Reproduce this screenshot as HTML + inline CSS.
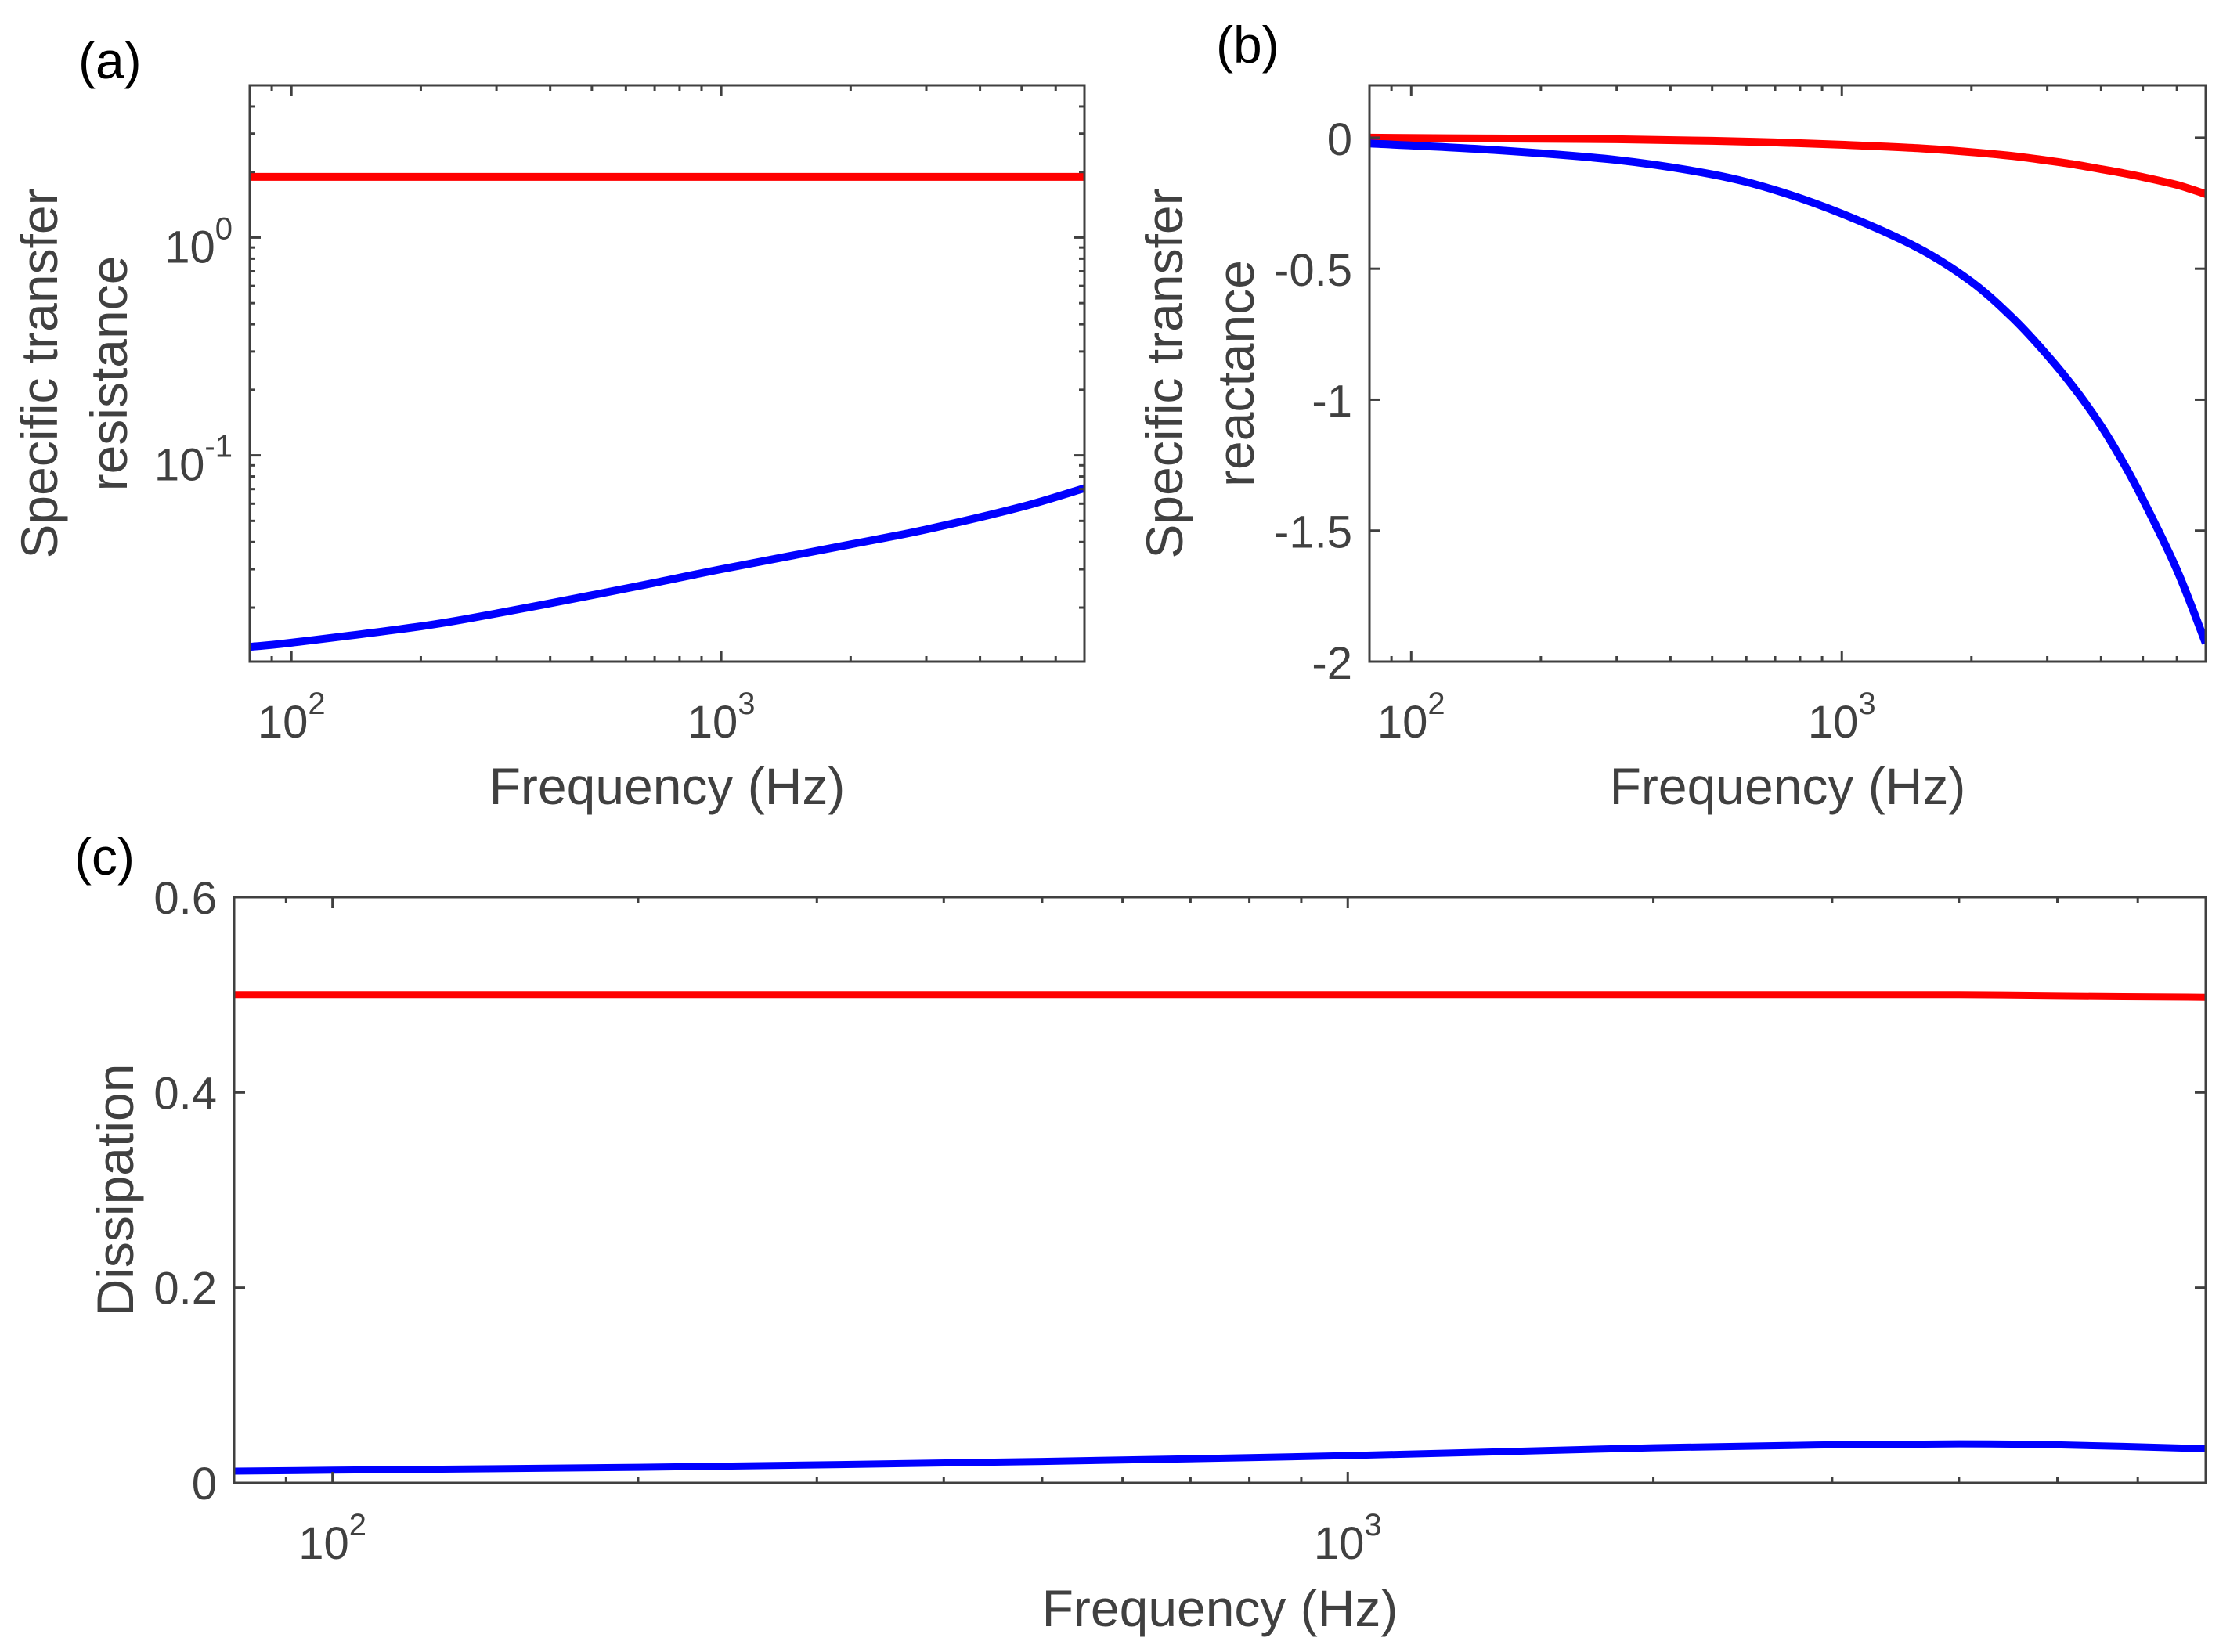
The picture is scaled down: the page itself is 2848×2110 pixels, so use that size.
<!DOCTYPE html>
<html><head><meta charset="utf-8">
<style>
html,body{margin:0;padding:0;background:#fff;}
svg{display:block;}
text{font-family:"Liberation Sans",Arial,sans-serif;fill:#404040;}
</style></head>
<body>
<svg id="fig" width="2848" height="2110" viewBox="0 0 2848 2110" xmlns="http://www.w3.org/2000/svg"></svg>
<script>
// ---- data ----
const freqA = [80, 100, 200, 300, 500, 700, 1000, 2000, 3000, 5000, 7000];
const resRed = [1.9, 1.9, 1.9, 1.9, 1.9, 1.9, 1.9, 1.9, 1.9, 1.9, 1.9];
const resBlue = [0.0132, 0.0138, 0.0164, 0.0188, 0.0228, 0.026, 0.030, 0.039, 0.0457, 0.058, 0.0707];

const freqB = [80, 150, 300, 500, 700, 1000, 1500, 2000, 2500, 3000, 3500, 4000, 4500, 5000, 6000, 7000];
const reacRed = [0, -0.003, -0.006, -0.012, -0.018, -0.027, -0.04, -0.055, -0.07, -0.087, -0.103, -0.12, -0.135, -0.15, -0.18, -0.215];
const reacBlue = [-0.022, -0.045, -0.085, -0.14, -0.2, -0.29, -0.42, -0.55, -0.69, -0.83, -0.965, -1.1, -1.24, -1.38, -1.65, -1.93];

const freqC = [80, 100, 200, 500, 1000, 2000, 3000, 4000, 5000, 7000];
const dissRed = [0.5, 0.5, 0.5, 0.5, 0.5, 0.5, 0.5, 0.5, 0.499, 0.498];
const dissBlue = [0.012, 0.013, 0.016, 0.022, 0.028, 0.036, 0.039, 0.040, 0.039, 0.035];

const yTicksB = [0, -0.5, -1, -1.5, -2];
const yTickLabelsB = ["0", "-0.5", "-1", "-1.5", "-2"];
const yTicksC = [0, 0.2, 0.4, 0.6];
const yTickLabelsC = ["0", "0.2", "0.4", "0.6"];

const NS = "http://www.w3.org/2000/svg";
const svg = document.getElementById('fig');
const GRAY = "#404040";
function mk(tag, attrs, parent){
  const e = document.createElementNS(NS, tag);
  for (const k in attrs) e.setAttribute(k, attrs[k]);
  (parent || svg).appendChild(e);
  return e;
}
function logScale(d0, d1, r0, r1){ const a=Math.log10(d0), b=Math.log10(d1); return v => r0 + (Math.log10(v)-a)/(b-a)*(r1-r0); }
function linScale(d0, d1, r0, r1){ return v => r0 + (v-d0)/(d1-d0)*(r1-r0); }

function smoothPath(pts){
  let d = "M" + pts[0][0].toFixed(1) + "," + pts[0][1].toFixed(1);
  for (let i=0;i<pts.length-1;i++){
    const p0=pts[Math.max(0,i-1)], p1=pts[i], p2=pts[i+1], p3=pts[Math.min(pts.length-1,i+2)];
    const c1x=p1[0]+(p2[0]-p0[0])/6, c1y=p1[1]+(p2[1]-p0[1])/6;
    const c2x=p2[0]-(p3[0]-p1[0])/6, c2y=p2[1]-(p3[1]-p1[1])/6;
    d += " C"+c1x.toFixed(1)+","+c1y.toFixed(1)+" "+c2x.toFixed(1)+","+c2y.toFixed(1)+" "+p2[0].toFixed(1)+","+p2[1].toFixed(1);
  }
  return d;
}

function powLabel(g, x, y, exp, anchor){
  const t = mk('text', {x:x, y:y, 'font-size':58, 'text-anchor':anchor}, g);
  
  
  const a = document.createElementNS(NS,'tspan'); a.textContent = "10"; t.appendChild(a);
  const b = document.createElementNS(NS,'tspan'); b.setAttribute('dy', -30); b.setAttribute('font-size', 40); b.textContent = exp; t.appendChild(b);
  return t;
}

function panel(cfg){
  const g = mk('g', {});
  
  
  const {L,R,T,B} = cfg;
  const xs = logScale(80, 7000, L, R);
  const ys = cfg.ys;
  const clipId = cfg.name + "-clip";
  const cp = mk('clipPath', {id: clipId}, g);
  mk('rect', {x:L, y:T, width:R-L, height:B-T}, cp);
  cfg.series.forEach(s => {
    const pts = s.x.map((f,i)=>[xs(f), ys(s.y[i])]);
    const p = mk('path', {d: smoothPath(pts), fill:'none', stroke:s.color, 'stroke-width':s.w, 'clip-path':'url(#'+clipId+')'}, g);
    
    
  });
  const fr = mk('rect', {x:L, y:T, width:R-L, height:B-T, fill:'none', stroke:GRAY, 'stroke-width':3}, g);
  
  
  for (let dec=1; dec<=3; dec++){
    for (let m=1; m<=9; m++){
      const f = m*Math.pow(10,dec);
      if (f < 80 || f > 7000) continue;
      const x = xs(f), len = m===1 ? 14 : 7;
      mk('line', {x1:x, y1:B, x2:x, y2:B-len, stroke:GRAY, 'stroke-width':3}, g);
      mk('line', {x1:x, y1:T, x2:x, y2:T+len, stroke:GRAY, 'stroke-width':3}, g);
      if (m===1) powLabel(g, x, B+97, String(dec), 'middle');
    }
  }
  cfg.yticks(g, ys);
  const xl = mk('text', {x:(L+R)/2, y:cfg.xlY, 'font-size':66, 'text-anchor':'middle'}, g);
  xl.textContent = "Frequency (Hz)";
  
  
  cfg.ylab.forEach(l => {
    const t = mk('text', {x:0, y:0, 'font-size':66, 'text-anchor':'middle', transform:'translate('+l.x+','+l.y+') rotate(-90)'}, g);
    t.textContent = l.text;
    
    
  });
  const pl = mk('text', {x:cfg.plX, y:cfg.plY, 'font-size':66, style:'fill:#000'}, g);
  pl.textContent = cfg.letter;
  
  
}

panel({
  name:'panel-a', L:319, R:1385, T:109, B:845,
  ys: logScale(0.0113, 5, 845, 109),
  series:[
    {name:'resistance-red-line', x:freqA, y:resRed, color:'#ff0000', w:10},
    {name:'resistance-blue-line', x:freqA, y:resBlue, color:'#0000ff', w:10}
  ],
  yticks:(g, ys)=>{
    for (let dec=-2; dec<=0; dec++){
      for (let m=1; m<=9; m++){
        const v = m*Math.pow(10,dec);
        if (v < 0.0113 || v > 5) continue;
        const y = ys(v), len = m===1 ? 14 : 7;
        mk('line', {x1:319, y1:y, x2:319+len, y2:y, stroke:GRAY, 'stroke-width':3}, g);
        mk('line', {x1:1385, y1:y, x2:1385-len, y2:y, stroke:GRAY, 'stroke-width':3}, g);
        if (m===1) powLabel(g, 297, y+32, String(dec), 'end');
      }
    }
  },
  xlY:1027,
  ylab:[{x:73, y:477, text:'Specific transfer'},{x:162, y:477, text:'resistance'}],
  letter:'(a)', plX:100, plY:100
});

panel({
  name:'panel-b', L:1749, R:2817, T:109, B:845,
  ys: linScale(-2, 0.2, 845, 109),
  series:[
    {name:'reactance-red-line', x:freqB, y:reacRed, color:'#ff0000', w:10},
    {name:'reactance-blue-line', x:freqB, y:reacBlue, color:'#0000ff', w:10}
  ],
  yticks:(g, ys)=>{
    yTicksB.forEach((v,i)=>{
      const y = ys(v);
      mk('line', {x1:1749, y1:y, x2:1763, y2:y, stroke:GRAY, 'stroke-width':3}, g);
      mk('line', {x1:2817, y1:y, x2:2803, y2:y, stroke:GRAY, 'stroke-width':3}, g);
      const t = mk('text', {x:1727, y:y+22, 'font-size':58, 'text-anchor':'end'}, g);
      t.textContent = yTickLabelsB[i];
      
      
    });
  },
  xlY:1027,
  ylab:[{x:1510, y:477, text:'Specific transfer'},{x:1601, y:477, text:'reactance'}],
  letter:'(b)', plX:1553, plY:80
});

panel({
  name:'panel-c', L:299, R:2817, T:1146, B:1894,
  ys: linScale(0, 0.6, 1894, 1146),
  series:[
    {name:'dissipation-red-line', x:freqC, y:dissRed, color:'#ff0000', w:9},
    {name:'dissipation-blue-line', x:freqC, y:dissBlue, color:'#0000ff', w:9}
  ],
  yticks:(g, ys)=>{
    yTicksC.forEach((v,i)=>{
      const y = ys(v);
      mk('line', {x1:299, y1:y, x2:313, y2:y, stroke:GRAY, 'stroke-width':3}, g);
      mk('line', {x1:2817, y1:y, x2:2803, y2:y, stroke:GRAY, 'stroke-width':3}, g);
      const t = mk('text', {x:277, y:y+21, 'font-size':58, 'text-anchor':'end'}, g);
      t.textContent = yTickLabelsC[i];
      
      
    });
  },
  xlY:2077,
  ylab:[{x:170, y:1520, text:'Dissipation'}],
  letter:'(c)', plX:95, plY:1117
});
</script>
</body></html>
